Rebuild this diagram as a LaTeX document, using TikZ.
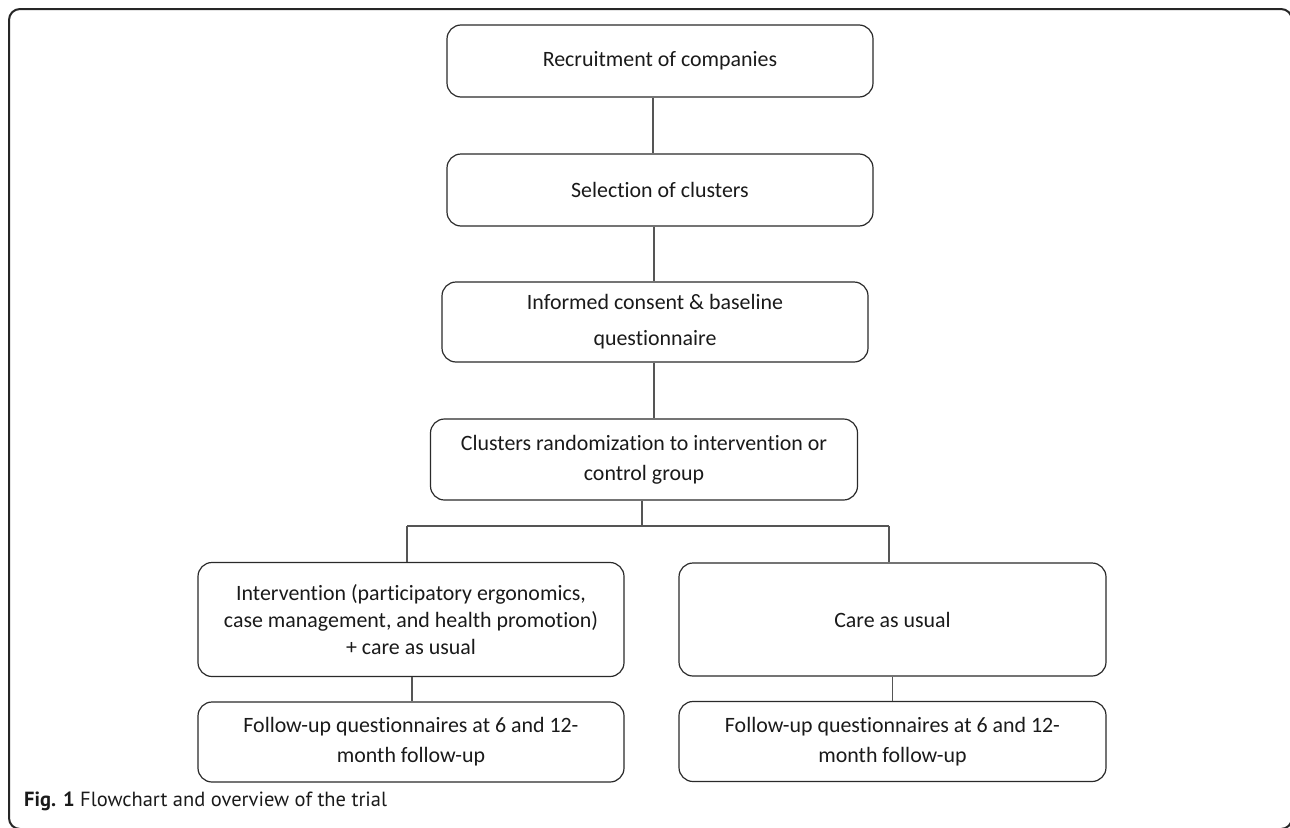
\documentclass[tikz,border=0pt]{standalone}
\usepackage{fontspec}
\setmainfont{Carlito}[Ligatures={NoCommon}]
\newfontfamily\capfont{PT Sans}
\definecolor{boxline}{HTML}{2A2A2A}
\definecolor{conline}{HTML}{555555}
\definecolor{txt}{HTML}{1A1A1A}
\begin{document}
\begin{tikzpicture}[x=1pt,y=-1pt,
  flowbox/.style={draw=boxline, line width=1.2pt, rounded corners=14pt, align=center,
    text=txt, inner sep=0pt, font=\fontsize{21.9}{27}\selectfont},
  conn/.style={draw=conline, line width=1.4pt}]
\useasboundingbox (0,0) rectangle (1290,827);
% outer frame
\draw[line width=2pt, draw=black!85, rounded corners=11pt] (9,9) rectangle (1292,829);
% boxes
\node[flowbox, minimum width=426pt, minimum height=72pt] (rec) at (660,61) {Recruitment of companies};
\node[flowbox, minimum width=426pt, minimum height=72pt] (sel) at (660,190) {Selection of clusters};
\node[flowbox, minimum width=426pt, minimum height=80pt, font=\fontsize{21.9}{36}\selectfont] (inf) at (655,322) {Informed consent \& baseline\\questionnaire};
\node[flowbox, minimum width=427pt, minimum height=81pt, font=\fontsize{21.9}{30}\selectfont] (rnd) at (644,459.5) {Clusters randomization to intervention or\\control group};
\node[flowbox, minimum width=426pt, minimum height=114pt] (int) at (411,619.5) {Intervention (participatory ergonomics,\\case management, and health promotion)\\+ care as usual};
\node[flowbox, minimum width=427pt, minimum height=113pt] (care) at (892.5,619.5) {Care as usual};
\node[flowbox, minimum width=426pt, minimum height=80pt, font=\fontsize{21.9}{30}\selectfont] (fl) at (411,742) {Follow-up questionnaires at 6 and 12-\\month follow-up};
\node[flowbox, minimum width=427pt, minimum height=80pt, font=\fontsize{21.9}{30}\selectfont] (fr) at (892.5,741.5) {Follow-up questionnaires at 6 and 12-\\month follow-up};
% connectors
\draw[conn] ([xshift=-7pt]rec.south) -- ([xshift=-7pt]sel.north);
\draw[conn] ([xshift=-6pt]sel.south) -- ([xshift=-1pt]inf.north);
\draw[conn] ([xshift=-1pt]inf.south) -- ([xshift=10pt]rnd.north);
\coordinate (bm) at (642,526);
\coordinate (bl) at (407,526);
\coordinate (br) at (889,526);
\draw[conn] (rnd.south -| bm) -- (bm);
\draw[conn] (bl) -- (br);
\draw[conn] (bl) -- (int.north -| bl);
\draw[conn] (br) -- (care.north -| br);
\draw[conn] ([xshift=1pt]int.south) -- ([xshift=1pt]fl.north);
\draw[conn] (care.south) -- (fr.north);
% caption
\node[anchor=west, inner sep=0pt, text=txt, font=\capfont\fontsize{20.5}{24}\selectfont] (cap) at (24,801) {\textbf{Fig. 1} Flowchart and overview of the trial};
\end{tikzpicture}
\end{document}
